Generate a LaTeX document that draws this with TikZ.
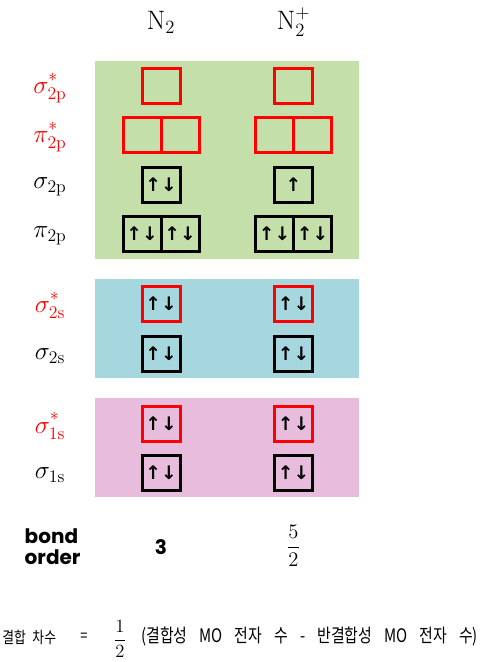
\RequirePackage{fix-cm}
\documentclass[tikz,border=0pt]{standalone}
\usepackage{amsmath}
\usepackage{fontspec}
\usepackage{xcolor}
\usetikzlibrary{positioning}
\newfontfamily\krfont[WordSpace=3.6, FakeStretch=0.8]{Noto Sans CJK KR}
\newfontfamily\arrfont{DejaVu Sans}
\newfontfamily\bofont{Poppins}
\definecolor{mogreen}{RGB}{196,223,170}
\definecolor{moblue}{RGB}{166,215,222}
\definecolor{mopink}{RGB}{232,188,220}
\definecolor{mored}{RGB}{255,0,0}
\newcommand{\antib}{^{\raisebox{2.5pt}{$\scriptstyle *$}}}
\tikzset{
  orb/.style={draw, line width=2.25pt, minimum width=28.5pt, minimum height=26.25pt,
    inner sep=0pt, outer sep=0pt, font=\arrfont\bfseries\fontsize{14}{14}\selectfont},
  aorb/.style={orb, draw=mored},
  molab/.style={font=\fontsize{19}{19}\selectfont},
  head/.style={font=\fontsize{20}{20}\selectfont},
  kr/.style={font=\krfont\fontsize{14}{14}\selectfont, inner sep=0pt},
  krs/.style={font=\krfont\fontsize{12}{12}\selectfont, inner sep=0pt},
  bold/.style={font=\bofont\bfseries\fontsize{15}{16}\selectfont},
}

\begin{document}
\begin{tikzpicture}[x=0.75pt, y=-0.75pt]
        \useasboundingbox (0,0) rectangle (490,662);
        % Energy bands
        \fill[mogreen] (95,61) rectangle (359,259);
        \fill[moblue] (95,279) rectangle (359,378);
        \fill[mopink] (95,398) rectangle (359,497);
        % Molecule headers
        \node[head] (hN) at (161,22) {$\mathrm{N}_2$};
        \node[head] (hNp) at (293.5,22) {$\mathrm{N}_2^{+}$};
        % Orbital labels
        \foreach \y/\nm/\lab/\col in {86/lsa2p/\sigma\antib_{2\mathrm{p}}/mored,
            135/lpa2p/\pi\antib_{2\mathrm{p}}/mored, 185/ls2p/\sigma_{2\mathrm{p}}/black,
            233.5/lp2p/\pi_{2\mathrm{p}}/black, 303.5/lsa2s/\sigma\antib_{2\mathrm{s}}/mored,
            354/ls2s/\sigma_{2\mathrm{s}}/black, 424/lsa1s/\sigma\antib_{1\mathrm{s}}/mored,
            473/ls1s/\sigma_{1\mathrm{s}}/black} {
            \node[molab, text=\col] (\nm) at (50,\y+2) {$\lab$};
        }
        % N2 orbitals
        \node[aorb] (asa2p) at (161,86) {};
        \node[aorb] (apa2pa) at (142,135) {};
        \node[aorb, right=0pt of apa2pa] (apa2pb) {};
        \node[orb] (as2p) at (161,185) {↑↓};
        \node[orb] (ap2pa) at (142,233.5) {↑↓};
        \node[orb, right=0pt of ap2pa] (ap2pb) {↑↓};
        \node[aorb] (asa2s) at (161,303.5) {↑↓};
        \node[orb] (as2s) at (161,354) {↑↓};
        \node[aorb] (asa1s) at (161,424) {↑↓};
        \node[orb] (as1s) at (161,473) {↑↓};
        % N2+ orbitals
        \node[aorb] (bsa2p) at (293.5,86) {};
        \node[aorb] (bpa2pa) at (274.5,135) {};
        \node[aorb, right=0pt of bpa2pa] (bpa2pb) {};
        \node[orb] (bs2p) at (293.5,185) {↑};
        \node[orb] (bp2pa) at (274.5,233.5) {↑↓};
        \node[orb, right=0pt of bp2pa] (bp2pb) {↑↓};
        \node[aorb] (bsa2s) at (293.5,303.5) {↑↓};
        \node[orb] (bs2s) at (293.5,354) {↑↓};
        \node[aorb] (bsa1s) at (293.5,424) {↑↓};
        \node[orb] (bs1s) at (293.5,473) {↑↓};
        % Bond order
        \node[bold, align=left, anchor=west] (bo) at (20,547) {bond\\order};
        \node[bold] (boa) at (161,547) {3};
        \node[font=\fontsize{15.5}{15.5}\selectfont] (bob) at (293.5,546) {$\dfrac{5}{2}$};
        % Formula
        \node[krs, anchor=west] (fa) at (2,637) {결합\hspace{5pt}차수};
        \node[krs] (fb) at (84,637) {=};
        \node[font=\fontsize{14}{14}\selectfont] (fc) at (120,639) {$\dfrac{1}{2}$};
        \node[kr, anchor=west] (fd) at (141,637) {(결합성 MO 전자 수 - 반결합성 MO 전자 수)};
    \end{tikzpicture}
\end{document}
